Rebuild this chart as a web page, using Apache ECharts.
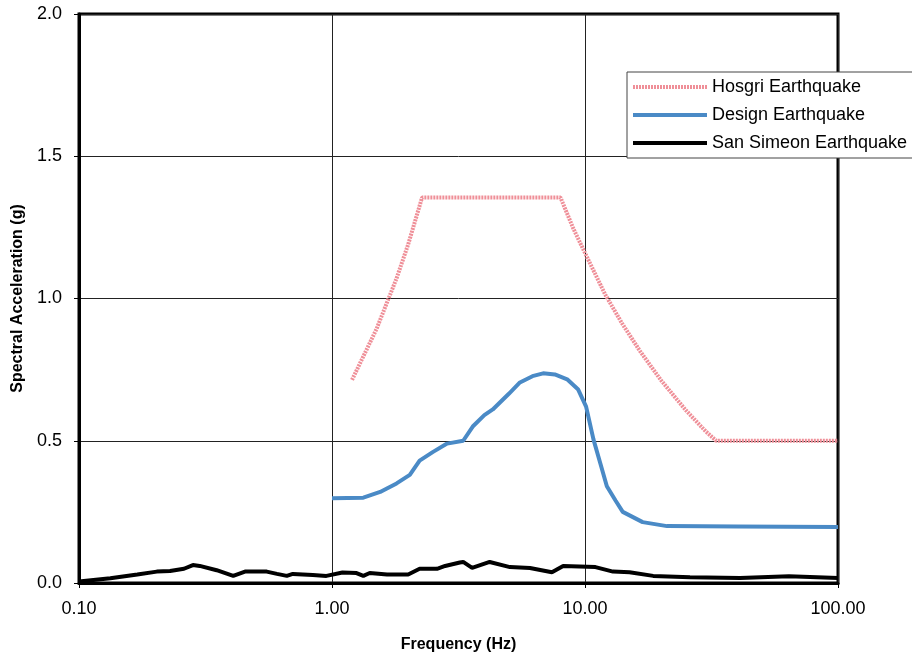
<!DOCTYPE html>
<html><head><meta charset="utf-8">
<script src="https://cdn.jsdelivr.net/npm/echarts@6/dist/echarts.min.js"></script>
<style>html,body{margin:0;padding:0;background:#fff}#c{width:912px;height:658px}</style>
</head><body><div id="c"></div>
<script>
const xTicks = [0.1, 1, 10, 100];
const yTicks = [0, 0.5, 1.0, 1.5, 2.0];
const seriesNames = ['Hosgri Earthquake', 'Design Earthquake', 'San Simeon Earthquake'];

const hosgriFreq = [1.2, 1.5, 1.8, 2.0, 2.27, 8.0, 9, 10, 12, 14, 16.5, 20, 25, 30, 33, 100];
const hosgriAcc  = [0.714, 0.893, 1.071, 1.19, 1.355, 1.355, 1.245, 1.16, 1.015, 0.913, 0.815, 0.712, 0.608, 0.533, 0.5, 0.5];

const designFreq = [1.0, 1.33, 1.55, 1.8, 2.03, 2.22, 2.5, 2.85, 3.3, 3.6, 4.0, 4.32, 5.0, 5.53, 6.2, 6.83, 7.6, 8.5, 9.4, 10.1, 10.8, 11.5, 12.2, 13.2, 14.1, 16.9, 21.1, 40, 100];
const designAcc  = [0.298, 0.30, 0.32, 0.35, 0.38, 0.43, 0.46, 0.49, 0.50, 0.55, 0.59, 0.61, 0.665, 0.705, 0.727, 0.737, 0.733, 0.716, 0.68, 0.62, 0.505, 0.42, 0.34, 0.29, 0.25, 0.214, 0.20, 0.199, 0.197];

const simeonFreq = [0.1, 0.133, 0.17, 0.203, 0.229, 0.26, 0.282, 0.30, 0.35, 0.407, 0.453, 0.552, 0.606, 0.663, 0.70, 0.84, 0.95, 1.10, 1.25, 1.33, 1.41, 1.65, 2.0, 2.22, 2.6, 2.8, 3.2, 3.3, 3.58, 4.2, 5.05, 6.06, 7.4, 8.2, 11, 12.9, 15.0, 18.6, 26, 41, 64, 100];
const simeonAcc  = [0.005, 0.017, 0.03, 0.04, 0.042, 0.05, 0.063, 0.06, 0.045, 0.025, 0.04, 0.04, 0.032, 0.025, 0.032, 0.028, 0.025, 0.037, 0.035, 0.025, 0.035, 0.03, 0.03, 0.05, 0.05, 0.06, 0.072, 0.074, 0.053, 0.074, 0.056, 0.053, 0.038, 0.06, 0.056, 0.04, 0.038, 0.025, 0.02, 0.018, 0.024, 0.018];

function pairs(xs, ys){ return xs.map((x,i)=>[x, ys[i]]); }

const chart = echarts.init(document.getElementById('c'), null, {renderer:'canvas'});
const font = 'Liberation Sans, Arial, sans-serif';
chart.setOption({
  animation: false,
  backgroundColor: '#fff',
  grid: {left: 79, right: 74, top: 14, bottom: 74, show: true, borderColor: '#000', borderWidth: 3, backgroundColor: 'transparent'},
  legend: {
    orient: 'vertical', left: 627, top: 72,
    data: seriesNames,
    itemWidth: 74, itemHeight: 10, itemGap: 10, itemTextGap: 4,
    itemStyle: {opacity: 0},
    lineStyle: {width: 4},
    padding: [6, 20, 6, 4],
    backgroundColor: '#fff', borderColor: '#444', borderWidth: 1, borderRadius: 0,
    textStyle: {fontFamily: font, fontSize: 18, color: '#000'}
  },
  xAxis: {
    type: 'log', logBase: 10, min: xTicks[0], max: xTicks[xTicks.length-1],
    name: 'Frequency (Hz)', nameLocation: 'middle', nameGap: 54,
    nameTextStyle: {fontFamily: font, fontSize: 16, fontWeight: 'bold', color: '#000'},
    axisLine: {lineStyle: {color: '#000', width: 3}},
    axisTick: {show: true, length: 5, lineStyle: {color: '#000', width: 1}},
    axisLabel: {fontFamily: font, fontSize: 18, color: '#000', margin: 17, formatter: v => Number(v).toFixed(2)},
    splitLine: {show: true, lineStyle: {color: '#222', width: 1}},
    minorTick: {show: false}
  },
  yAxis: {
    type: 'value', min: yTicks[0], max: yTicks[yTicks.length-1], interval: 0.5,
    name: 'Spectral Acceleration (g)', nameLocation: 'middle', nameGap: 52, nameRotate: 90,
    nameTextStyle: {fontFamily: font, fontSize: 16, fontWeight: 'bold', color: '#000'},
    axisLine: {show: true, lineStyle: {color: '#000', width: 3}},
    axisTick: {show: true, length: 5, lineStyle: {color: '#000', width: 1}},
    axisLabel: {fontFamily: font, fontSize: 18, color: '#000', margin: 17, formatter: v => Number(v).toFixed(1)},
    splitLine: {show: true, lineStyle: {color: '#222', width: 1}}
  },
  series: [
    {name: seriesNames[0], type: 'line', symbol: 'none', data: pairs(hosgriFreq, hosgriAcc),
     lineStyle: {color: '#ef8f98', width: 4, type: [2, 1]}, itemStyle: {color: '#ef8f98'}, z: 3},
    {name: seriesNames[1], type: 'line', symbol: 'none', data: pairs(designFreq, designAcc),
     lineStyle: {color: '#4a8ac6', width: 4}, itemStyle: {color: '#4a8ac6'}, z: 4},
    {name: seriesNames[2], type: 'line', symbol: 'none', data: pairs(simeonFreq, simeonAcc),
     lineStyle: {color: '#000', width: 4}, itemStyle: {color: '#000'}, z: 5}
  ]
});
</script></body></html>
